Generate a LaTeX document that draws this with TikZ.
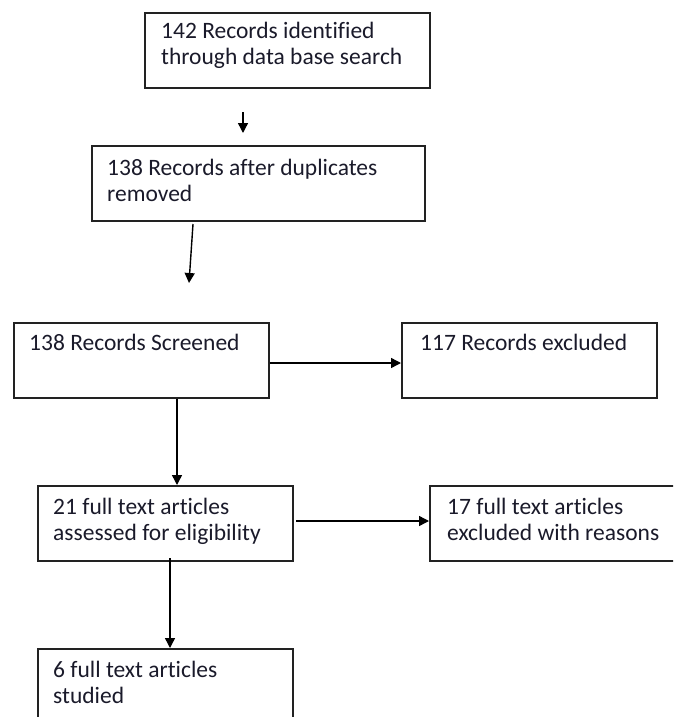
\documentclass[tikz,border=0pt]{standalone}
\usepackage{fontspec}
\setmainfont[Ligatures=NoCommon]{Carlito}
\usetikzlibrary{arrows.meta}
\definecolor{edge}{HTML}{222222}
\definecolor{ink}{HTML}{1A1A2A}
\tikzset{
  box/.style={draw=edge, line width=1.8pt, rectangle, inner sep=0pt, anchor=north west},
  txt/.style={text=ink, font=\fontsize{23.5}{26}\selectfont, align=left, inner sep=0pt, anchor=base west},
  arr/.style={draw=black, line width=1.4pt, -{Triangle[length=10pt,width=10pt]}}
}
\begin{document}
\begin{tikzpicture}[x=1pt,y=-1pt]
\useasboundingbox (0,0) rectangle (673,717);
\clip (0,0) rectangle (673,717);
% boxes
\node[box, minimum width=285pt, minimum height=75pt] (b1) at (144,12) {};
\node[box, minimum width=333pt, minimum height=75pt] (b2) at (91,145) {};
\node[box, minimum width=255pt, minimum height=75pt] (b3) at (13,322) {};
\node[box, minimum width=255pt, minimum height=75pt] (b4) at (401,322) {};
\node[box, minimum width=255pt, minimum height=75pt] (b5) at (37,485) {};
\node[box, minimum width=270pt, minimum height=75pt] (b6) at (429,485) {};
\node[box, minimum width=255pt, minimum height=110pt] (b7) at (37,648) {};
% texts (base anchor = baseline of last line)
\node[txt] (t1) at (161,65) {142 Records identified\\through  data base search};
\node[txt] (t2) at (107,201) {138 Records after duplicates\\removed};
\node[txt] (t3) at (29,350) {138 Records Screened};
\node[txt] (t4) at (420,350) {117 Records excluded};
\node[txt] (t5) at (53,540) {21 full text articles\\assessed for eligibility};
\node[txt] (t6) at (447,540) {17 full text articles\\excluded with reasons};
\node[txt] (t7) at (53,703) {6 full text articles\\studied};
% connectors
\coordinate (a1s) at (243,112);
\coordinate (a1e) at (243,133);
\draw[arr] (a1s) -- (a1e);
\coordinate (a2s) at (193,224);
\coordinate (a2e) at (189,283);
\draw[arr] (a2s) -- (a2e);
\draw[arr] (b3.east |- 0,363) -- (b4.west |- 0,363);
\draw[arr] (b3.south -| 177,0) -- (b5.north -| 177,0);
\coordinate (a5s) at (296,521);
\draw[arr] (a5s) -- (b6.west |- a5s);
\coordinate (a6s) at (170,558);
\draw[arr] (a6s) -- (b7.north -| a6s);
\end{tikzpicture}
\end{document}
